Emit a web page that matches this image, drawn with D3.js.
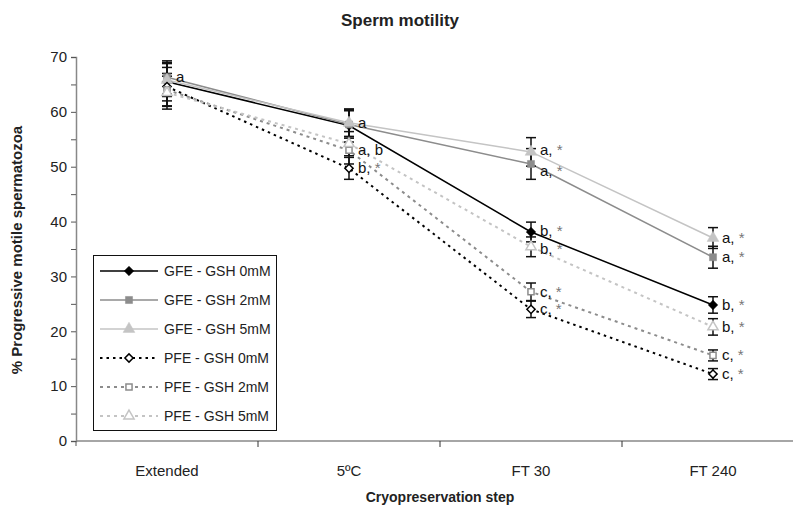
<!DOCTYPE html>
<html>
<head>
<meta charset="utf-8">
<script src="https://cdn.jsdelivr.net/npm/d3@7"></script>
<style>
  body { margin: 0; background: #fff; }
  text { font-family: Arial, "Liberation Sans", sans-serif; }
</style>
</head>
<body>
<div id="chart"></div>
<script>
// data
var steps = ["Extended", "5ºC", "FT 30", "FT 240"];
var seriesNames = ["GFE - GSH 0mM", "GFE - GSH 2mM", "GFE - GSH 5mM",
                   "PFE - GSH 0mM", "PFE - GSH 2mM", "PFE - GSH 5mM"];
var gfe0 = [65.5, 57.5, 38.1, 24.8];
var gfe2 = [66.3, 57.7, 50.5, 33.5];
var gfe5 = [65.8, 58.0, 52.7, 37.0];
var pfe0 = [64.6, 49.7, 24.0, 12.2];
var pfe2 = [64.0, 53.0, 27.2, 15.6];
var pfe5 = [63.5, 54.2, 35.4, 20.8];
var err0 = [3.5, 3.0, 1.8, 1.5];
var err2 = [3.0, 2.5, 2.8, 2.0];
var err5 = [3.0, 2.5, 2.6, 1.9];
var errP0 = [3.5, 2.0, 1.5, 1.0];
var errP2 = [3.0, 2.5, 1.6, 1.0];
var errP5 = [3.0, 2.2, 1.8, 1.5];
var letters0 = ["", "", "b, *", "b, *"];
var letters2 = ["a", "", "a, *", "a, *"];
var letters5 = ["", "a", "a, *", "a, *"];
var lettersP0 = ["", "b, *", "c, *", "c, *"];
var lettersP2 = ["", "a, b", "c, *", "c, *"];
var lettersP5 = ["", "", "b, *", "b, *"];
var yTicks = [0, 10, 20, 30, 40, 50, 60, 70];

var w = 793, h = 506;
var svg = d3.select("#chart").append("svg")
  .attr("width", w).attr("height", h);

var x = d3.scaleBand().domain(steps).range([76, 804]);
var y = d3.scaleLinear().domain([0, 70]).range([441, 57]);
var cx = function(s) { return x(s) + x.bandwidth() / 2; };

var series = [
  {name: seriesNames[0], vals: gfe0, err: err0, lab: letters0, color: "#000", dash: null, shape: "diamond", fill: true},
  {name: seriesNames[1], vals: gfe2, err: err2, lab: letters2, color: "#8c8c8c", dash: null, shape: "square", fill: true},
  {name: seriesNames[2], vals: gfe5, err: err5, lab: letters5, color: "#c4c4c4", dash: null, shape: "triangle", fill: true},
  {name: seriesNames[3], vals: pfe0, err: errP0, lab: lettersP0, color: "#000", dash: "2.5,4", shape: "diamond", fill: false},
  {name: seriesNames[4], vals: pfe2, err: errP2, lab: lettersP2, color: "#8c8c8c", dash: "3,4", shape: "square", fill: false},
  {name: seriesNames[5], vals: pfe5, err: errP5, lab: lettersP5, color: "#c4c4c4", dash: "3,4", shape: "triangle", fill: false}
];

function marker(sel, s) {
  var type = s.shape === "triangle" ? d3.symbolTriangle : d3.symbolSquare;
  var size = s.shape === "triangle" ? 60 : (s.shape === "square" ? 50 : 45);
  if (!s.fill) size = size * 0.75;
  sel.attr("d", d3.symbol().type(type).size(size))
    .attr("fill", s.fill ? s.color : "#fff")
    .attr("stroke", s.color).attr("stroke-width", s.fill ? 0.5 : 1.5);
  return sel;
}
function rot(s) { return s.shape === "diamond" ? " rotate(45)" : ""; }

// title
svg.append("text").attr("x", 400).attr("y", 26)
  .attr("text-anchor", "middle").attr("font-size", "17px").attr("font-weight", "bold")
  .attr("fill", "#222").text("Sperm motility");

// y axis
var yAxis = d3.axisLeft(y).tickValues(d3.range(0, 71, 5)).tickSize(5)
  .tickFormat(function(d) { return yTicks.indexOf(d) > -1 ? d : ""; });
var gy = svg.append("g").attr("transform", "translate(76,0)").call(yAxis);
gy.select(".domain").attr("stroke", "#888").attr("stroke-width", 1.5);
gy.selectAll(".tick line").attr("stroke", "#555");
gy.selectAll(".tick text").attr("font-size", "15px").attr("fill", "#222")
  .attr("font-family", "Arial, 'Liberation Sans', sans-serif").attr("x", -9);

// x axis
svg.append("line").attr("x1", 76).attr("x2", w).attr("y1", 441).attr("y2", 441)
  .attr("stroke", "#888").attr("stroke-width", 1.5);
svg.selectAll(".xtick").data(steps.slice(1)).enter().append("line")
  .attr("x1", function(d) { return x(d); }).attr("x2", function(d) { return x(d); })
  .attr("y1", 441).attr("y2", 447).attr("stroke", "#333");
svg.append("line").attr("x1", 76).attr("x2", 76).attr("y1", 441).attr("y2", 446).attr("stroke", "#555");
svg.selectAll(".xlab").data(steps).enter().append("text")
  .attr("x", cx).attr("y", 476).attr("text-anchor", "middle")
  .attr("font-size", "15px").attr("fill", "#222").text(function(d) { return d; });

svg.append("text").attr("x", 440).attr("y", 502).attr("text-anchor", "middle")
  .attr("font-size", "14px").attr("font-weight", "bold").attr("fill", "#222")
  .text("Cryopreservation step");
svg.append("text").attr("transform", "translate(22,250) rotate(-90)")
  .attr("text-anchor", "middle").attr("font-size", "15px").attr("font-weight", "bold")
  .attr("fill", "#222").text("% Progressive motile spermatozoa");

var line = d3.line().x(function(d, i) { return cx(steps[i]); }).y(function(d) { return y(d); });

// lines (dashed ones first so solids sit on top)
[3, 4, 5, 0, 1, 2].forEach(function(k) {
  var s = series[k];
  svg.append("path").datum(s.vals).attr("d", line).attr("fill", "none")
    .attr("stroke", s.color).attr("stroke-width", s.dash ? 2 : 1.5)
    .attr("stroke-dasharray", s.dash);
});

// error bars
series.forEach(function(s) {
  var g = svg.append("g");
  s.vals.forEach(function(v, i) {
    var px = cx(steps[i]);
    var lo = y(v - s.err[i]), hi = y(v + s.err[i]);
    g.append("line").attr("x1", px).attr("x2", px).attr("y1", lo).attr("y2", hi)
      .attr("stroke", "#111").attr("stroke-width", 1.5);
    [lo, hi].forEach(function(yy) {
      g.append("line").attr("x1", px - 5).attr("x2", px + 5).attr("y1", yy).attr("y2", yy)
        .attr("stroke", "#111").attr("stroke-width", 1.5);
    });
  });
});

// markers
series.forEach(function(s) {
  svg.selectAll(null).data(s.vals).enter().append("path")
    .attr("transform", function(d, i) { return "translate(" + cx(steps[i]) + "," + y(d) + ")" + rot(s); })
    .call(marker, s);
});

// significance letters (small nudges where labels crowd at FT 30)
series.forEach(function(s, k) {
  s.vals.forEach(function(v, i) {
    if (!s.lab[i]) return;
    var parts = s.lab[i].split("*");
    var dy = 0;
    if (i === 2) {
      if (k === 1) dy = 7;
      if (k === 2) dy = -2;
      if (k === 0) dy = -1;
      if (k === 5) dy = 2;
    }
    var t = svg.append("text").attr("x", cx(steps[i]) + 9).attr("y", y(v) + 5 + dy)
      .attr("font-family", "'Liberation Serif', 'DejaVu Serif', serif").attr("font-size", "15px")
      .attr("fill", "#111");
    t.append("tspan").text(parts[0]);
    if (parts.length > 1) t.append("tspan").attr("fill", "#777").text("*");
  });
});

// legend
var lg = svg.append("g");
lg.append("rect").attr("x", 93.5).attr("y", 255.5).attr("width", 183).attr("height", 175)
  .attr("fill", "#fff").attr("stroke", "#111").attr("stroke-width", 1);
series.forEach(function(s, i) {
  var ly = 271 + i * 29;
  lg.append("line").attr("x1", 100).attr("x2", 158).attr("y1", ly).attr("y2", ly)
    .attr("stroke", s.color).attr("stroke-width", s.dash ? 2 : 1.5).attr("stroke-dasharray", s.dash);
  lg.append("path").attr("transform", "translate(129," + ly + ")" + rot(s)).call(marker, s);
  lg.append("text").attr("x", 164).attr("y", ly + 5).attr("font-size", "14px")
    .attr("fill", "#222").text(s.name);
});
</script>
</body>
</html>
